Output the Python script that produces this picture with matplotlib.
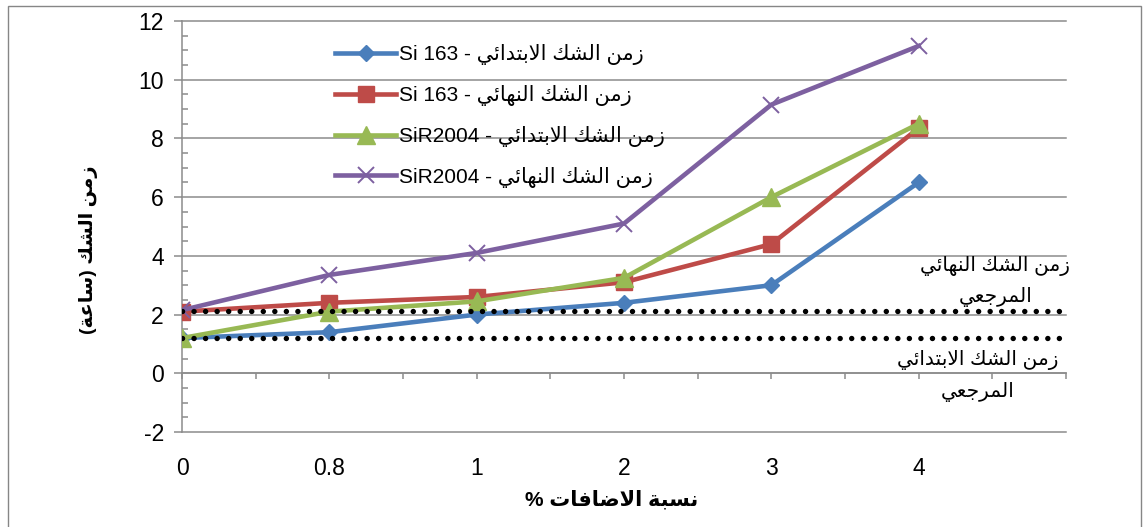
import matplotlib
matplotlib.use("Agg")
import matplotlib.pyplot as plt
from matplotlib.patches import Rectangle
from matplotlib.ticker import MultipleLocator
import numpy as np

plt.rcParams['axes.unicode_minus'] = False

# ---------------- data ----------------
categories = ["0", "0.8", "1", "2", "3", "4"]
si163_initial = [1.2, 1.4, 2.0, 2.4, 3.0, 6.5]
si163_final = [2.1, 2.4, 2.6, 3.1, 4.4, 8.35]
sir2004_initial = [1.2, 2.1, 2.45, 3.25, 6.0, 8.5]
sir2004_final = [2.15, 3.35, 4.1, 5.1, 9.15, 11.15]
ref_final = 2.12
ref_initial = 1.2
series_names = [
    ("زمن الشك الابتدائي", "Si 163"),
    ("زمن الشك النهائي", "Si 163"),
    ("زمن الشك الابتدائي", "SiR2004"),
    ("زمن الشك النهائي", "SiR2004"),
]
y_label = "زمن الشك (ساعة)"
x_label = "نسبة الاضافات %"
ref_final_text = ["زمن الشك النهائي", "المرجعي"]
ref_initial_text = ["زمن الشك الابتدائي", "المرجعي"]

# ---------------- minimal Arabic shaping ----------------
FORMS = {
    '\u0621': (0xFE80,), '\u0622': (0xFE81, 0xFE82), '\u0623': (0xFE83, 0xFE84),
    '\u0624': (0xFE85, 0xFE86), '\u0625': (0xFE87, 0xFE88),
    '\u0626': (0xFE89, 0xFE8A, 0xFE8B, 0xFE8C), '\u0627': (0xFE8D, 0xFE8E),
    '\u0628': (0xFE8F, 0xFE90, 0xFE91, 0xFE92), '\u0629': (0xFE93, 0xFE94),
    '\u062A': (0xFE95, 0xFE96, 0xFE97, 0xFE98), '\u062B': (0xFE99, 0xFE9A, 0xFE9B, 0xFE9C),
    '\u062C': (0xFE9D, 0xFE9E, 0xFE9F, 0xFEA0), '\u062D': (0xFEA1, 0xFEA2, 0xFEA3, 0xFEA4),
    '\u062E': (0xFEA5, 0xFEA6, 0xFEA7, 0xFEA8), '\u062F': (0xFEA9, 0xFEAA),
    '\u0630': (0xFEAB, 0xFEAC), '\u0631': (0xFEAD, 0xFEAE), '\u0632': (0xFEAF, 0xFEB0),
    '\u0633': (0xFEB1, 0xFEB2, 0xFEB3, 0xFEB4), '\u0634': (0xFEB5, 0xFEB6, 0xFEB7, 0xFEB8),
    '\u0635': (0xFEB9, 0xFEBA, 0xFEBB, 0xFEBC), '\u0636': (0xFEBD, 0xFEBE, 0xFEBF, 0xFEC0),
    '\u0637': (0xFEC1, 0xFEC2, 0xFEC3, 0xFEC4), '\u0638': (0xFEC5, 0xFEC6, 0xFEC7, 0xFEC8),
    '\u0639': (0xFEC9, 0xFECA, 0xFECB, 0xFECC), '\u063A': (0xFECD, 0xFECE, 0xFECF, 0xFED0),
    '\u0641': (0xFED1, 0xFED2, 0xFED3, 0xFED4), '\u0642': (0xFED5, 0xFED6, 0xFED7, 0xFED8),
    '\u0643': (0xFED9, 0xFEDA, 0xFEDB, 0xFEDC), '\u0644': (0xFEDD, 0xFEDE, 0xFEDF, 0xFEE0),
    '\u0645': (0xFEE1, 0xFEE2, 0xFEE3, 0xFEE4), '\u0646': (0xFEE5, 0xFEE6, 0xFEE7, 0xFEE8),
    '\u0647': (0xFEE9, 0xFEEA, 0xFEEB, 0xFEEC), '\u0648': (0xFEED, 0xFEEE),
    '\u0649': (0xFEEF, 0xFEF0), '\u064A': (0xFEF1, 0xFEF2, 0xFEF3, 0xFEF4),
}
LAM_ALEF = {'\u0622': (0xFEF5, 0xFEF6), '\u0623': (0xFEF7, 0xFEF8),
            '\u0625': (0xFEF9, 0xFEFA), '\u0627': (0xFEFB, 0xFEFC)}
MIRROR = {'(': ')', ')': '(', '[': ']', ']': '['}


def shape_arabic(text):
    units = []
    i = 0
    while i < len(text):
        c = text[i]
        if c == '\u0644' and i + 1 < len(text) and text[i + 1] in LAM_ALEF:
            units.append(('lig', LAM_ALEF[text[i + 1]]))
            i += 2
            continue
        if c in FORMS:
            units.append(('ar', FORMS[c]))
        else:
            units.append(('x', c))
        i += 1

    def joins(u):
        return u[0] in ('ar', 'lig') and len(u[1]) >= 2

    def dual(u):
        return u[0] == 'ar' and len(u[1]) == 4

    out = []
    for k, u in enumerate(units):
        if u[0] == 'x':
            out.append(u[1])
            continue
        forms = u[1]
        prev_ok = k > 0 and dual(units[k - 1]) and joins(u)
        next_ok = dual(u) and k + 1 < len(units) and joins(units[k + 1])
        if prev_ok and next_ok:
            cp = forms[3]
        elif prev_ok:
            cp = forms[1]
        elif next_ok:
            cp = forms[2]
        else:
            cp = forms[0]
        out.append(chr(cp))
    return ''.join(MIRROR.get(ch, ch) for ch in reversed(out))


FAM = ['Liberation Sans', 'DejaVu Sans']

# ---------------- figure ----------------
W, H = 1143, 527
fig = plt.figure(figsize=(W / 100, H / 100), dpi=100)
fig.patches.append(Rectangle((8 / W, -0.05), (1141 - 8) / W, 1.05 - 5.5 / H,
                             transform=fig.transFigure, fill=False,
                             edgecolor='#868686', lw=1.0, clip_on=False))

left, right = 182 / W, 1066 / W
top, bottom = 1 - 21 / H, 1 - 432 / H
ax = fig.add_axes([left, bottom, right - left, top - bottom])

x = np.arange(len(categories))
colors = ['#4A7EBB', '#BE4B48', '#98B954', '#7D60A0']
ax.plot(x, si163_initial, color=colors[0], lw=3.3, marker='D', ms=8,
        mec=colors[0], label=f"{series_names[0][1]} - {shape_arabic(series_names[0][0])}", zorder=3)
ax.plot(x, si163_final, color=colors[1], lw=3.3, marker='s', ms=11,
        mec=colors[1], label=f"{series_names[1][1]} - {shape_arabic(series_names[1][0])}", zorder=3)
ax.plot(x, sir2004_initial, color=colors[2], lw=3.3, marker='^', ms=13,
        mec=colors[2], label=f"{series_names[2][1]} - {shape_arabic(series_names[2][0])}", zorder=3)
ax.plot(x, sir2004_final, color=colors[3], lw=3.3, marker='x', ms=12, mew=1.4,
        mec=colors[3], label=f"{series_names[3][1]} - {shape_arabic(series_names[3][0])}", zorder=3)

# reference dotted lines
for val in (ref_final, ref_initial):
    ax.plot([0, 6], [val, val], color='black', lw=3.9,
            linestyle=(0, (0.01, 2.12)), dash_capstyle='round', zorder=5)

ax.set_xlim(0, 6)
ax.set_ylim(-2, 12)

# y axis styling
ax.yaxis.set_major_locator(MultipleLocator(2))
ax.yaxis.set_minor_locator(MultipleLocator(0.5))
ax.grid(axis='y', which='major', color='#8C8C8C', lw=1.1, zorder=0)
for gl in ax.get_ygridlines():
    gl.set_clip_on(False)
ax.tick_params(axis='y', which='major', direction='out', length=6, width=1.1,
               color='#8C8C8C', labelsize=16.5, pad=7)
ax.tick_params(axis='y', which='minor', direction='in', length=4, width=1.1,
               color='#8C8C8C')
for lab in ax.get_yticklabels():
    lab.set_family(FAM)
ax.spines['left'].set_color('#8C8C8C')
ax.spines['left'].set_linewidth(1.1)
ax.spines['top'].set_visible(False)
ax.spines['right'].set_visible(False)

# x axis crossing at y=0 with small downward ticks
ax.spines['bottom'].set_position(('data', 0))
ax.spines['bottom'].set_color('#8C8C8C')
ax.spines['bottom'].set_linewidth(1.1)
ax.set_xticks(np.arange(0, 6.01, 0.5))
ax.tick_params(axis='x', which='major', direction='out', length=4, width=1.1,
               color='#8C8C8C', labelbottom=False)

# category labels at the bottom of the plot
sec = ax.secondary_xaxis(0)
sec.set_xticks(x, categories)
sec.tick_params(length=0, pad=18, labelsize=16.5)
sec.spines['bottom'].set_visible(False)
for lab in sec.get_xticklabels():
    lab.set_family(FAM)

sec.set_xlabel(shape_arabic(x_label), family=FAM, fontsize=15, fontweight='bold')
sec.xaxis.set_label_coords(612 / W, 1 - 490 / H, transform=fig.transFigure)
ax.set_ylabel(shape_arabic(y_label), family=FAM, fontsize=14, fontweight='bold')
ax.yaxis.set_label_coords(98 / W, 1 - 250 / H, transform=fig.transFigure)

# reference annotations
fs_ann = 14.5
ax.text(5.52, ref_final + 1.55, shape_arabic(ref_final_text[0]), ha='center', va='center',
        fontsize=fs_ann, family=FAM)
ax.text(5.52, ref_final + 0.48, shape_arabic(ref_final_text[1]), ha='center', va='center',
        fontsize=fs_ann, family=FAM)
ax.text(5.40, ref_initial - 0.75, shape_arabic(ref_initial_text[0]), ha='center', va='center',
        fontsize=fs_ann, family=FAM)
ax.text(5.40, ref_initial - 1.85, shape_arabic(ref_initial_text[1]), ha='center', va='center',
        fontsize=fs_ann, family=FAM)

leg = ax.legend(loc='upper left', bbox_to_anchor=(327 / W, 1 - 36 / H),
                bbox_transform=fig.transFigure, frameon=False,
                handlelength=2.9, handletextpad=0.15, labelspacing=0.95,
                borderaxespad=0, prop={'family': FAM, 'size': 15})

fig.savefig("out.png", dpi=100)
